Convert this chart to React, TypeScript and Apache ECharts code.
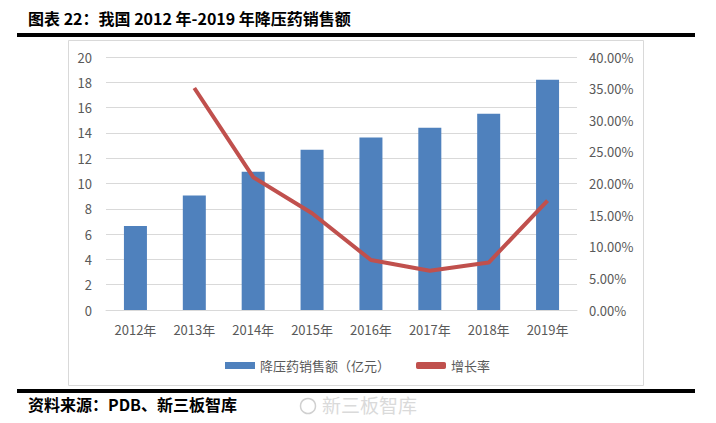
import React, { useEffect, useRef } from "react";
import * as echarts from "echarts";

const categories = ["2012年", "2013年", "2014年", "2015年", "2016年", "2017年", "2018年", "2019年"];
const sales = [6.65, 9.05, 10.92, 12.66, 13.64, 14.4, 15.51, 18.2];
const growth = [null, 0.351, 0.21, 0.153, 0.079, 0.062, 0.075, 0.173];
const titleText = "图表 22：我国 2012 年-2019 年降压药销售额";
const sourceText = "资料来源：PDB、新三板智库";
const watermarkText = "新三板智库";

export default function App() {
  const ref = useRef<HTMLDivElement>(null);
  useEffect(() => {
    const chart = echarts.init(ref.current!, null, { renderer: "svg" });
    const font = "'Noto Sans CJK SC', 'Microsoft YaHei', sans-serif";
    chart.setOption({
      animation: false,
      backgroundColor: "#fff",
      textStyle: { fontFamily: font },
      grid: { left: 106, right: 139, top: 57, bottom: 113 },
      legend: {
        top: 354,
        left: 220,
        itemGap: 26,
        itemWidth: 30,
        itemHeight: 7,
        textStyle: { color: "#595959", fontSize: 13, fontFamily: font },
        data: [
          { name: "降压药销售额（亿元）", icon: "rect" },
          { name: "增长率", icon: "roundRect", itemStyle: { color: "#C0504D" } },
        ],
      },
      xAxis: {
        type: "category",
        data: categories,
        axisLine: { lineStyle: { color: "#D9D9D9" } },
        axisTick: { show: false },
        axisLabel: { color: "#595959", fontSize: 13, margin: 13 },
      },
      yAxis: [
        {
          type: "value",
          min: 0,
          max: 20,
          interval: 2,
          axisLine: { show: false },
          axisTick: { show: false },
          axisLabel: { color: "#595959", fontSize: 13, margin: 14 },
          splitLine: { lineStyle: { color: "#D9D9D9" } },
        },
        {
          type: "value",
          min: 0,
          max: 0.4,
          interval: 0.05,
          axisLine: { show: false },
          axisTick: { show: false },
          splitLine: { show: false },
          axisLabel: {
            color: "#595959",
            fontSize: 13,
            margin: 12,
            formatter: (v: number) => (v * 100).toFixed(2) + "%",
          },
        },
      ],
      series: [
        {
          name: "降压药销售额（亿元）",
          type: "bar",
          data: sales,
          barWidth: 23,
          itemStyle: { color: "#4F81BD" },
        },
        {
          name: "增长率",
          type: "line",
          yAxisIndex: 1,
          data: growth,
          showSymbol: false,
          symbol: "none",
          lineStyle: { color: "#C0504D", width: 4 },
          itemStyle: { color: "#C0504D" },
        },
      ],
      graphic: [
        {
          type: "text",
          left: 28,
          top: 10,
          style: { text: titleText, font: `bold 16px ${font}`, fill: "#000" },
        },
        {
          type: "rect",
          shape: { x: 17, y: 33, width: 678, height: 4 },
          style: { fill: "#000" },
        },
        {
          type: "rect",
          shape: { x: 68.5, y: 40.5, width: 575, height: 345 },
          style: { fill: "none", stroke: "#D9D9D9", lineWidth: 1 },
          z: -1,
        },
        {
          type: "rect",
          shape: { x: 17, y: 389, width: 678, height: 4 },
          style: { fill: "#000" },
        },
        {
          type: "text",
          left: 28,
          top: 396,
          style: { text: sourceText, font: `bold 16px ${font}`, fill: "#000" },
        },
        {
          type: "circle",
          shape: { cx: 308, cy: 406, r: 7.5 },
          style: { fill: "none", stroke: "#D0D0D0", lineWidth: 1.5 },
        },
        {
          type: "text",
          left: 322,
          top: 395,
          style: { text: watermarkText, font: `19px ${font}`, fill: "#DADADA" },
        },
      ],
    });
    return () => chart.dispose();
  }, []);
  return <div ref={ref} style={{ width: 716, height: 423, position: "absolute", left: 0, top: 0 }} />;
}
